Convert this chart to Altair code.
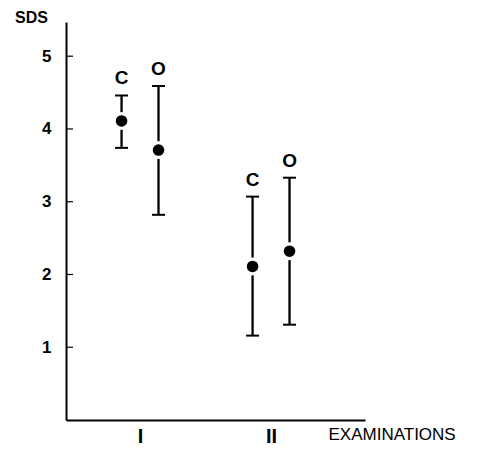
import altair as alt
import pandas as pd

exam = [1, 1, 2, 2]
group = ["C", "O", "C", "O"]
sds_mean = [4.11, 3.71, 2.11, 2.32]
sds_low = [3.74, 2.82, 1.16, 1.31]
sds_high = [4.46, 4.59, 3.07, 3.33]
y_ticks = [1, 2, 3, 4, 5]
x_ticks = [1, 2]
x_tick_labels = ["I", "II"]

df = pd.DataFrame(dict(exam=exam, group=group, mean=sds_mean, low=sds_low, high=sds_high))
ticks_df = pd.DataFrame({"t": y_ticks})

FONT = "Liberation Sans"
xs = alt.Scale(domain=[0.435, 2.717], nice=False, zero=False)
ys = alt.Scale(domain=[0, 5.47], nice=False, zero=False)

label_expr = "[" + ",".join(f"'{s}'" for s in x_tick_labels) + "][datum.value - 1]"
x_axis = alt.Axis(
    values=x_ticks, labelExpr=label_expr, ticks=False, tickSize=0, grid=False,
    labelFontSize=20, labelFontWeight="bold", labelFont=FONT, labelPadding=6,
    labelBaseline="top", domainWidth=2, domainColor="black", labelColor="black",
    title="EXAMINATIONS", titleX=262, titleY=14, titleAlign="left",
    titleBaseline="middle", titleFontSize=17, titleFontWeight="normal",
    titleFont=FONT, titleColor="black",
)
y_axis = alt.Axis(
    values=y_ticks, ticks=False, tickSize=0, grid=False, labelFontSize=17,
    labelFontWeight="bold", labelFont=FONT, labelPadding=15, labelColor="black",
    domainWidth=2, domainColor="black",
    title="SDS", titleAngle=0, titleX=-35, titleY=-5, titleAlign="center",
    titleBaseline="middle", titleFontSize=16, titleFontWeight="bold",
    titleFont=FONT, titleColor="black",
)

X = alt.X("xpos:Q", scale=xs, axis=x_axis)

base = alt.Chart(df).transform_calculate(
    xpos="datum.exam + (datum.group == 'C' ? -0.141 : 0.141)"
)

bars = base.mark_rule(color="black", strokeWidth=2.3).encode(
    x=X, y=alt.Y("low:Q", scale=ys, axis=y_axis), y2="high:Q"
)
cap_lo = base.mark_tick(orient="horizontal", size=13, thickness=2, color="black", opacity=1).encode(
    x=X, y=alt.Y("low:Q", scale=ys, axis=y_axis)
)
cap_hi = base.mark_tick(orient="horizontal", size=13, thickness=2, color="black", opacity=1).encode(
    x=X, y=alt.Y("high:Q", scale=ys, axis=y_axis)
)
halo = base.mark_circle(size=320, color="white", opacity=1).encode(
    x=X, y=alt.Y("mean:Q", scale=ys, axis=y_axis)
)
dots = base.mark_circle(size=135, color="black", opacity=1).encode(
    x=X, y=alt.Y("mean:Q", scale=ys, axis=y_axis)
)
labels = base.mark_text(dy=-17, fontSize=19, fontWeight="bold", font=FONT,
                        baseline="middle", color="black").encode(
    x=X, y=alt.Y("high:Q", scale=ys, axis=y_axis), text="group:N"
)
yticks = alt.Chart(ticks_df).mark_rule(color="black", strokeWidth=1.2).encode(
    y=alt.Y("t:Q", scale=ys, axis=y_axis), x=alt.value(0), x2=alt.value(7)
)

chart = alt.layer(yticks, bars, cap_lo, cap_hi, halo, dots, labels).properties(
    width=299, height=398,
    autosize=alt.AutoSizeParams(type="none"),
    padding={"left": 58, "top": 14, "right": 117, "bottom": 30},
).configure_view(stroke=None)

chart.save("out.html", embed_options={"renderer": "svg", "actions": False})
